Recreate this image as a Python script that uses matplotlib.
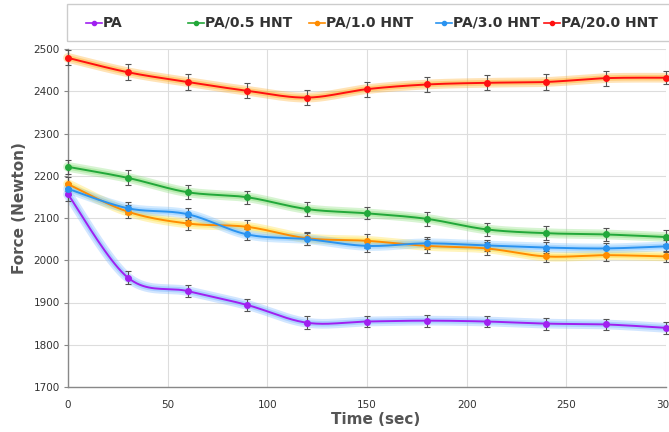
import numpy as np
import matplotlib
matplotlib.use("Agg")
import matplotlib.pyplot as plt
from matplotlib.lines import Line2D
from matplotlib.patches import Rectangle

time_sec = [0, 30, 60, 90, 120, 150, 180, 210, 240, 270, 300]
series_names = ["PA", "PA/0.5 HNT", "PA/1.0 HNT", "PA/3.0 HNT", "PA/20.0 HNT"]
pa = [2156, 1959, 1927, 1894, 1852, 1855, 1857, 1855, 1850, 1848, 1840]
pa_05 = [2221, 2195, 2161, 2149, 2121, 2111, 2098, 2073, 2064, 2061, 2055]
pa_10 = [2180, 2115, 2087, 2079, 2052, 2046, 2034, 2028, 2009, 2012, 2009]
pa_30 = [2169, 2123, 2109, 2061, 2050, 2034, 2040, 2035, 2030, 2028, 2033]
pa_200 = [2479, 2445, 2422, 2401, 2385, 2405, 2416, 2420, 2422, 2431, 2432]
err_pa = [15, 15, 14, 15, 15, 12, 14, 14, 14, 14, 14]
err_05 = [16, 18, 16, 16, 16, 14, 16, 16, 16, 16, 16]
err_10 = [16, 16, 16, 16, 16, 16, 16, 16, 14, 14, 14]
err_30 = [14, 14, 14, 14, 14, 14, 14, 14, 14, 14, 14]
err_200 = [18, 19, 19, 18, 18, 18, 18, 18, 18, 18, 16]
y_ticks = [1700, 1800, 1900, 2000, 2100, 2200, 2300, 2400, 2500]
x_ticks = [0, 50, 100, 150, 200, 250, 300]

values = [pa, pa_05, pa_10, pa_30, pa_200]
errors = [err_pa, err_05, err_10, err_30, err_200]
colors = ["#a020f0", "#22a83a", "#ff8c00", "#2a93f0", "#ff1010"]
glows = ["#7fb8ff", "#8fe07f", "#ffe040", "#7fc4ff", "#ffb030"]


def smooth(x, y, n=20):
    x = np.asarray(x, float)
    y = np.asarray(y, float)
    xs, ys = [], []
    for i in range(len(x) - 1):
        p0 = np.array([x[max(i - 1, 0)], y[max(i - 1, 0)]])
        p1 = np.array([x[i], y[i]])
        p2 = np.array([x[i + 1], y[i + 1]])
        p3 = np.array([x[min(i + 2, len(x) - 1)], y[min(i + 2, len(x) - 1)]])
        t = np.linspace(0, 1, n, endpoint=(i == len(x) - 2))
        c1 = p1 + (p2 - p0) / 6.0
        c2 = p2 - (p3 - p1) / 6.0
        b = ((1 - t) ** 3)[:, None] * p1 + (3 * (1 - t) ** 2 * t)[:, None] * c1 \
            + (3 * (1 - t) * t ** 2)[:, None] * c2 + (t ** 3)[:, None] * p2
        xs.append(b[:, 0])
        ys.append(b[:, 1])
    return np.concatenate(xs), np.concatenate(ys)


W, H = 669, 432
fig = plt.figure(figsize=(W / 100, H / 100), dpi=100)
ax = fig.add_axes([68 / W, (H - 387) / H, (666 - 68) / W, (387 - 49) / H])

for v, e, c, g in zip(values, errors, colors, glows):
    sx, sy = smooth(time_sec, v)
    ax.plot(sx, sy, color=g, lw=7, alpha=0.35, solid_capstyle="round", zorder=2, clip_on=False)
    ax.plot(sx, sy, color=g, lw=4, alpha=0.45, solid_capstyle="round", zorder=2, clip_on=False)
    ax.errorbar(time_sec, v, yerr=e, fmt="none", ecolor="#555555", elinewidth=0.8,
                capsize=2, capthick=0.8, zorder=3, clip_on=False)
    ax.plot(sx, sy, color=c, lw=1.4, zorder=4, clip_on=False)
    ax.plot(time_sec, v, "o", color=c, ms=4, zorder=5, clip_on=False)

ax.set_xlim(0, 300)
ax.set_ylim(1700, 2500)
ax.set_xticks(x_ticks)
ax.set_yticks(y_ticks)
ax.grid(True, color="#dddddd", lw=0.8)
ax.set_axisbelow(True)
for s in ["top", "right"]:
    ax.spines[s].set_visible(False)
for s in ["left", "bottom"]:
    ax.spines[s].set_color("#888888")
    ax.spines[s].set_linewidth(1.0)
ax.tick_params(axis="y", length=3, color="#888888", labelsize=7.5, labelcolor="#333333", pad=3)
ax.tick_params(axis="x", length=0, labelsize=7.5, labelcolor="#333333", pad=9)
ax.set_xlabel("Time (sec)", fontsize=11, fontweight="bold", color="#555555")
ax.set_ylabel("Force (Newton)", fontsize=11, fontweight="bold", color="#555555")
ax.xaxis.set_label_coords((376 - 68) / 598, -(420 - 387) / 338, transform=ax.transAxes)
ax.yaxis.set_label_coords(-(68 - 20) / 598, (387 - 208) / 338, transform=ax.transAxes)
ax.xaxis.label.set_va("center")
ax.yaxis.label.set_va("center")

# legend box
fig.patches.append(Rectangle((67 / W, (H - 41) / H), (W - 67) / W + 0.01, 37 / H,
                             transform=fig.transFigure, fill=False, ec="#cccccc", lw=1))
marker_x = [94, 196, 317, 444, 552]
ly = (H - 23) / H
for mx, name, c in zip(marker_x, series_names, colors):
    fig.add_artist(Line2D([(mx - 8) / W, (mx + 8) / W], [ly, ly], color=c, lw=1.2,
                          transform=fig.transFigure))
    fig.add_artist(Line2D([mx / W], [ly], marker="o", color=c, ms=3,
                          transform=fig.transFigure))
    fig.text((mx + 9) / W, ly, name, fontsize=10, fontweight="bold", color="#333333",
             va="center", ha="left")

fig.savefig("out.png", dpi=100)
